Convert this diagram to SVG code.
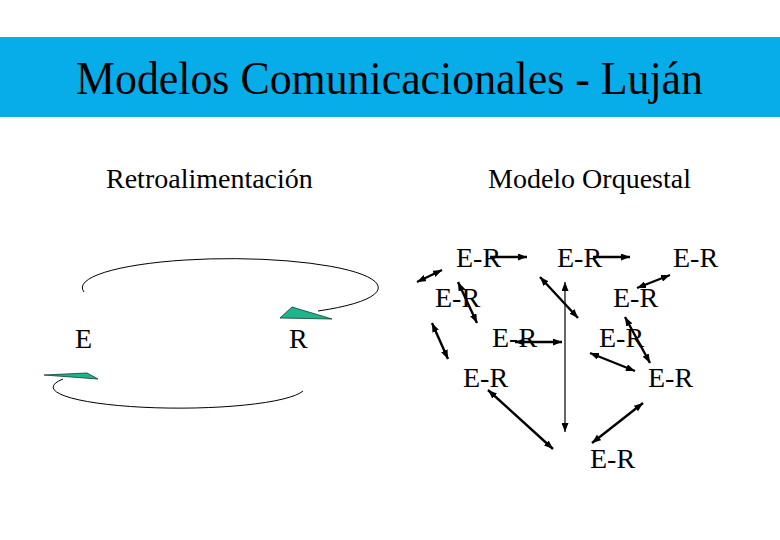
<svg xmlns="http://www.w3.org/2000/svg" width="780" height="540" viewBox="0 0 780 540">
<style>
.t{font-family:"Liberation Serif","Times New Roman",serif;fill:#000}
.er{font-size:28px}
.a{stroke:#000;stroke-width:2.4;fill:none}
.v{stroke:#000;stroke-width:1.2;fill:none}
.loop{stroke:#000;stroke-width:1;fill:none}
.head{fill:#1db58b;stroke:#0b3d30;stroke-width:0.8}
</style>
<defs>
<marker id="ah" markerUnits="userSpaceOnUse" viewBox="0 0 9 7" refX="9" refY="3.5" markerWidth="9" markerHeight="7" orient="auto-start-reverse">
<path d="M0,0 L9,3.5 L0,7 z" fill="#000"/>
</marker>
<marker id="vh" markerUnits="userSpaceOnUse" viewBox="0 0 9 7" refX="9" refY="3.5" markerWidth="9" markerHeight="7" orient="auto-start-reverse">
<path d="M0,0 L9,3.5 L0,7 z" fill="#000"/>
</marker>
</defs>
<rect x="0" y="0" width="780" height="540" fill="#fff"/>
<g id="banner">
<rect x="0" y="37" width="780" height="80" fill="#06ade9"/>
<text class="t" x="76" y="94" font-size="47" textLength="627" lengthAdjust="spacingAndGlyphs">Modelos Comunicacionales - Luján</text>
</g>
<g id="headings">
<text class="t" x="106" y="188" font-size="28">Retroalimentación</text>
<text class="t" x="488" y="188" font-size="28">Modelo Orquestal</text>
</g>
<g id="left-nodes">
<g id="nE"><text class="t" x="75" y="348" font-size="28">E</text></g>
<g id="nR"><text class="t" x="289" y="348" font-size="28">R</text></g>
</g>
<g id="left-connectors">
<path class="loop" d="M84,292 A148 29 0 1 1 318,311"/>
<polygon class="head" points="280,318 292,307 332,319"/>
<path class="loop" d="M63,379 A126 21 0 1 0 303,391"/>
<polygon class="head" points="44,375 87,373 98,379"/>
</g>
<g id="orq-nodes" class="t er">
<g id="o1"><text x="456" y="267">E-R</text></g>
<g id="o2"><text x="557" y="267">E-R</text></g>
<g id="o3"><text x="673" y="267">E-R</text></g>
<g id="o4"><text x="435" y="307">E-R</text></g>
<g id="o5"><text x="613" y="307">E-R</text></g>
<g id="o6"><text x="492" y="347">E-R</text></g>
<g id="o7"><text x="599" y="347">E-R</text></g>
<g id="o8"><text x="463" y="387">E-R</text></g>
<g id="o9"><text x="648" y="387">E-R</text></g>
<g id="o10"><text x="590" y="468">E-R</text></g>
</g>
<g id="orq-connectors">
<line class="a" x1="490" y1="257" x2="527" y2="257" marker-end="url(#ah)"/>
<line class="a" x1="593" y1="257" x2="630" y2="257" marker-end="url(#ah)"/>
<line class="a" x1="417" y1="282" x2="442" y2="270" marker-start="url(#ah)" marker-end="url(#ah)"/>
<line class="a" x1="458" y1="282" x2="477" y2="323" marker-start="url(#ah)" marker-end="url(#ah)"/>
<line class="a" x1="540" y1="277" x2="578" y2="318" marker-start="url(#ah)" marker-end="url(#ah)"/>
<line class="v" x1="565" y1="282" x2="565" y2="432" marker-start="url(#vh)" marker-end="url(#vh)"/>
<line class="a" x1="670" y1="275" x2="637" y2="288" marker-start="url(#ah)" marker-end="url(#ah)"/>
<line class="a" x1="625" y1="317" x2="650" y2="363" marker-start="url(#ah)" marker-end="url(#ah)"/>
<line class="a" x1="432" y1="323" x2="448" y2="359" marker-start="url(#ah)" marker-end="url(#ah)"/>
<line class="a" x1="515" y1="342" x2="562" y2="342" marker-start="url(#ah)" marker-end="url(#ah)"/>
<line class="a" x1="590" y1="353" x2="635" y2="371" marker-start="url(#ah)" marker-end="url(#ah)"/>
<line class="a" x1="488" y1="390" x2="553" y2="449" marker-start="url(#ah)" marker-end="url(#ah)"/>
<line class="a" x1="643" y1="403" x2="592" y2="443" marker-start="url(#ah)" marker-end="url(#ah)"/>
</g>
</svg>
